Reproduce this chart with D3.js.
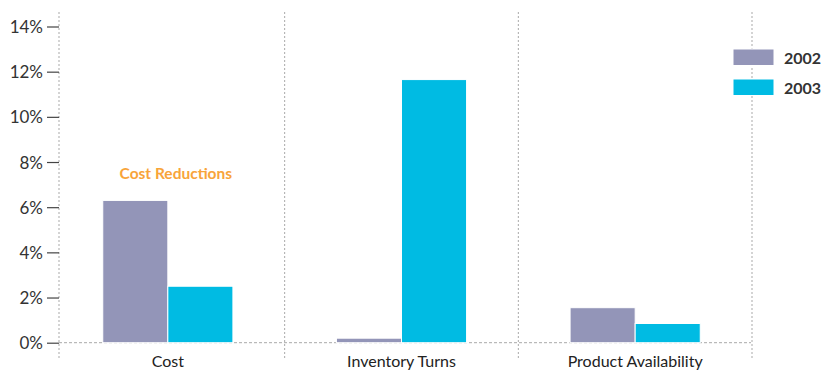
<!DOCTYPE html>
<html>
<head>
<meta charset="utf-8">
<script src="https://cdn.jsdelivr.net/npm/d3@7"></script>
<style>
  html, body { margin: 0; padding: 0; background: #fff; }
  svg { display: block; }
  text { font-family: Lato, "DejaVu Sans Condensed", sans-serif; }
</style>
</head>
<body>
<svg id="chart" width="835" height="370"></svg>
<script>
// Improvement by metric, 2002 vs 2003 (percent)
const categories = ["Cost", "Inventory Turns", "Product Availability"];
const seriesNames = ["2002", "2003"];
const values2002 = [6.3, 0.2, 1.55];
const values2003 = [2.5, 11.65, 0.85];
const yTicks = [0, 2, 4, 6, 8, 10, 12, 14];
const annotationText = "Cost Reductions";

const colors = { "2002": "#9395b8", "2003": "#00bbe3" };
const seriesValues = { "2002": values2002, "2003": values2003 };

const svg = d3.select("#chart");

const axisX = 59, plotRight = 751, baseY = 342.7, topY = 26.5;

const y = d3.scaleLinear().domain([0, 14]).range([baseY, topY]);

const x0 = d3.scaleBand()
  .domain(categories)
  .range([51, 752])
  .paddingInner(0.443)
  .paddingOuter(0.2215);

const x1 = d3.scaleBand()
  .domain(seriesNames)
  .range([0, x0.bandwidth()]);

const dotted = "#a9a9a9";

// vertical dotted separators between categories
const step = x0.step();
const sepXs = categories.map(c => x0(c) + x0.bandwidth() + (step - x0.bandwidth()) / 2);
svg.append("g").selectAll("line")
  .data(sepXs)
  .join("line")
  .attr("x1", d => d).attr("x2", d => d)
  .attr("y1", 12).attr("y2", 360)
  .attr("stroke", dotted).attr("stroke-width", 1)
  .attr("stroke-dasharray", "2,2");

// y axis dotted spine
svg.append("line")
  .attr("x1", axisX).attr("x2", axisX)
  .attr("y1", 12).attr("y2", 360)
  .attr("stroke", dotted).attr("stroke-dasharray", "2,2");

// baseline
svg.append("line")
  .attr("x1", axisX).attr("x2", plotRight)
  .attr("y1", y(0)).attr("y2", y(0))
  .attr("stroke", dotted).attr("stroke-dasharray", "3,2");

// bars
const groups = svg.append("g").selectAll("g")
  .data(categories)
  .join("g")
  .attr("transform", c => `translate(${x0(c)},0)`);

groups.selectAll("rect")
  .data((c, i) => seriesNames.map(s => ({ s, v: seriesValues[s][i] })))
  .join("rect")
  .attr("x", d => x1(d.s))
  .attr("width", x1.bandwidth())
  .attr("y", d => y(d.v))
  .attr("height", d => y(0) - y(d.v))
  .attr("fill", d => colors[d.s])
  .attr("stroke", "#fff")
  .attr("stroke-width", 1);

// y axis ticks and labels
const yAxis = d3.axisLeft(y)
  .tickValues(yTicks)
  .tickSize(12)
  .tickPadding(4)
  .tickFormat(d => d + "%");

const yg = svg.append("g")
  .attr("transform", `translate(${axisX},0)`)
  .call(yAxis);
yg.select(".domain").remove();
yg.selectAll(".tick line").attr("stroke", "#444").attr("stroke-width", 1.2);
yg.selectAll(".tick text")
  .attr("fill", "#333")
  .style("font-size", "17px")
  .attr("dy", "0.36em");

// category labels
const xAxis = d3.axisBottom(x0).tickSize(0).tickPadding(0);
const xg = svg.append("g")
  .attr("transform", `translate(0,${y(0)})`)
  .call(xAxis);
xg.select(".domain").remove();
xg.selectAll(".tick text")
  .attr("y", 24)
  .attr("dy", 0)
  .attr("fill", "#222")
  .style("font-size", "16px");

// annotation above the cost bars
svg.append("text")
  .attr("x", x0("Cost") + x0.bandwidth() / 2 + 8)
  .attr("y", y(7.25))
  .attr("text-anchor", "middle")
  .attr("fill", "#f8a43a")
  .style("font-size", "15.5px")
  .style("font-weight", "bold")
  .text(annotationText);

// legend
const legend = svg.append("g").attr("transform", "translate(733,49)");
const li = legend.selectAll("g")
  .data(seriesNames)
  .join("g")
  .attr("transform", (d, i) => `translate(0,${i * 30})`);
li.append("rect")
  .attr("width", 41).attr("height", 16.5)
  .attr("fill", d => colors[d])
  .attr("stroke", "#fff");
li.append("text")
  .attr("x", 51).attr("y", 14.5)
  .attr("fill", "#333")
  .style("font-size", "16px")
  .style("font-weight", "bold")
  .text(d => d);
</script>
</body>
</html>
